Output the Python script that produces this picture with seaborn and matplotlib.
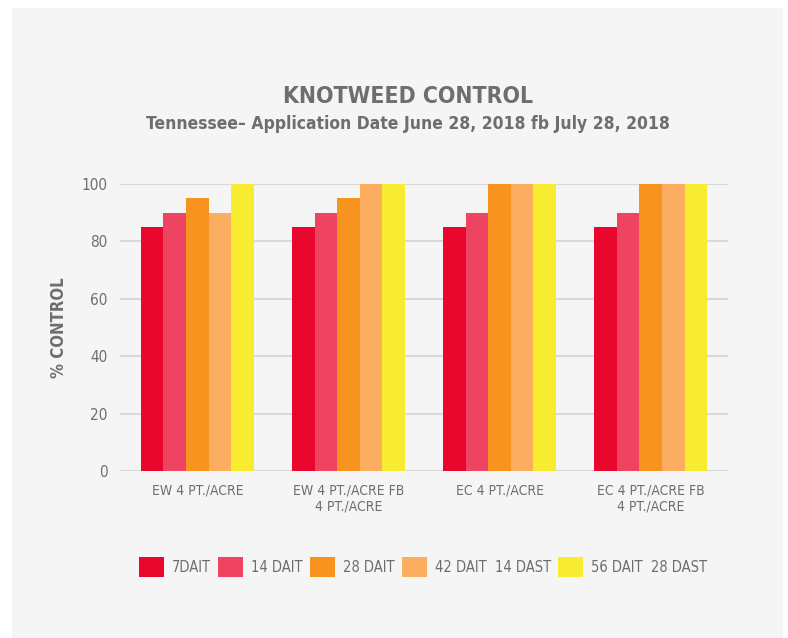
import pandas as pd
import matplotlib
matplotlib.use('Agg')
import matplotlib.pyplot as plt
from matplotlib.patches import Rectangle, Patch
import seaborn as sns

# Data
treatments = ["EW 4 PT./ACRE", "EW 4 PT./ACRE FB\n4 PT./ACRE",
              "EC 4 PT./ACRE", "EC 4 PT./ACRE FB\n4 PT./ACRE"]
timings = ["7DAIT", "14 DAIT", "28 DAIT", "42 DAIT  14 DAST", "56 DAIT  28 DAST"]
dait_7 = [85, 85, 85, 85]
dait_14 = [90, 90, 90, 90]
dait_28 = [95, 95, 100, 100]
dait_42 = [90, 100, 100, 100]
dait_56 = [100, 100, 100, 100]
colors = ["#E9072E", "#EF4461", "#F7931E", "#FBAE60", "#F8EC31"]

rows = []
for t, vals in zip(timings, [dait_7, dait_14, dait_28, dait_42, dait_56]):
    for trt, v in zip(treatments, vals):
        rows.append({"treatment": trt, "timing": t, "control": v})
df = pd.DataFrame(rows)

sns.set_style("white")
plt.rcParams['font.family'] = ['DejaVu Sans']
plt.rcParams['font.stretch'] = 'condensed'
text_color = "#6D6E71"
bg = "#F5F5F5"

fig = plt.figure(figsize=(7.88, 6.38), dpi=100, facecolor="white")
fig.patches.append(Rectangle((12 / 788, 0), (783 - 12) / 788, 1 - 8 / 638,
                             transform=fig.transFigure, facecolor=bg,
                             edgecolor="none", zorder=-10))

ax = fig.add_axes([120 / 788, 1 - 471 / 638, 608 / 788, 287 / 638])
ax.set_facecolor(bg)

sns.barplot(data=df, x="treatment", y="control", hue="timing",
            order=treatments, hue_order=timings, palette=colors,
            width=0.75, saturation=1, errorbar=None, legend=False,
            linewidth=0, ax=ax)

ax.set_xlim(-0.513, 3.513)
ax.set_ylim(0, 100)
ax.set_yticks([0, 20, 40, 60, 80, 100])
ax.yaxis.grid(True, color="#D9D9D9", linewidth=1.5)
ax.set_axisbelow(True)
for b in ax.patches:
    b.set_clip_on(False)
for s in ax.spines.values():
    s.set_visible(False)
ax.tick_params(axis="y", length=0, colors=text_color, labelsize=11, pad=9)
ax.tick_params(axis="x", length=0, colors=text_color, labelsize=10, pad=9)
ax.set_xlabel("")
ax.set_ylabel("% CONTROL", fontsize=12, fontweight="bold", color=text_color, labelpad=10)

fig.text(408 / 788, 1 - 103 / 638, "KNOTWEED CONTROL", ha="center", va="baseline",
         fontsize=16.5, fontweight="bold", color=text_color)
fig.text(408 / 788, 1 - 129 / 638, "Tennessee\u2013 Application Date June 28, 2018 fb July 28, 2018",
         ha="center", va="baseline", fontsize=12.5, fontweight="bold", color=text_color)

handles = [Patch(facecolor=c, edgecolor="none") for c in colors]
fig.legend(handles, timings, loc="center", bbox_to_anchor=(423 / 788, 1 - 567 / 638),
           ncol=5, frameon=False, fontsize=10.5, labelcolor=text_color,
           handlelength=1.71, handleheight=1.71, handletextpad=0.55, columnspacing=0.5)

fig.savefig("out.png", dpi=100, facecolor="white")
